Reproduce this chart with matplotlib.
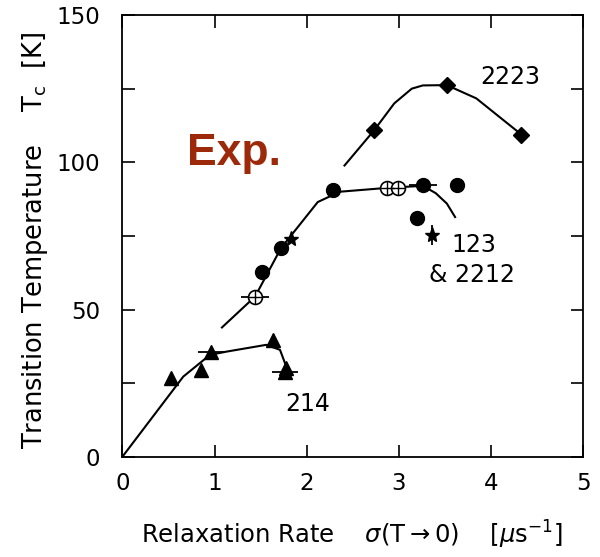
import matplotlib
matplotlib.use('Agg')
import matplotlib.pyplot as plt
from matplotlib.ticker import MultipleLocator

# 2223 (diamonds)
x_2223 = [2.73, 3.52, 4.33]
y_2223 = [110.8, 126.2, 109.4]
curve_2223_x = [2.41, 2.73, 2.95, 3.14, 3.26, 3.52, 3.84, 4.33]
curve_2223_y = [98.9, 110.8, 120.0, 125.0, 126.1, 126.2, 121.7, 109.4]

# 123 & 2212 (filled circles, stars, open circles)
x_123 = [1.52, 1.72, 2.28, 3.26, 3.63, 3.20]
y_123 = [62.6, 70.8, 90.6, 92.3, 92.3, 81.1]
x_star = [1.83, 3.36]
y_star = [73.9, 75.3]
x_open = [1.44, 2.87, 2.99]
y_open = [54.4, 91.3, 91.3]
curve_123_x = [1.08, 1.44, 1.72, 2.12, 2.36, 2.87, 3.26, 3.40, 3.52, 3.61]
curve_123_y = [43.9, 54.4, 70.8, 86.5, 90.0, 91.3, 92.0, 89.5, 86.0, 81.4]

# 214 (triangles)
x_214 = [0.53, 0.85, 0.96, 1.63, 1.76, 1.78]
y_214 = [26.8, 29.5, 35.7, 39.8, 28.8, 30.2]
curve_214_x = [0.0, 0.66, 0.95, 1.13, 1.56, 1.71, 1.80]
curve_214_y = [0.0, 27.2, 34.6, 35.7, 38.0, 36.3, 28.8]

# horizontal error bars (x, y, half width)
err_x = [1.44, 3.26, 0.96, 1.76]
err_y = [54.4, 92.3, 35.7, 28.8]
err_w = [0.15, 0.15, 0.14, 0.14]

plt.rcParams['font.family'] = ['DejaVu Sans']
fig = plt.figure(figsize=(6, 5.57), dpi=100)
ax = fig.add_axes([0.204, 0.180, 0.768, 0.793])

lw = 1.5
ax.plot(curve_2223_x, curve_2223_y, color='black', lw=lw)
ax.plot(curve_123_x, curve_123_y, color='black', lw=lw)
ax.plot(curve_214_x, curve_214_y, color='black', lw=lw)

ax.errorbar(err_x, err_y, xerr=err_w, fmt='none', ecolor='black', elinewidth=1.3, capsize=0)
ax.errorbar([3.36], [75.3], yerr=[3.5], fmt='none', ecolor='black', elinewidth=1.3, capsize=0)

ax.plot(x_2223, y_2223, 'D', color='black', ms=8, ls='none')
ax.plot(x_123, y_123, 'o', color='black', ms=10, ls='none')
ax.plot(x_star, y_star, '*', color='black', ms=11, ls='none')
ax.plot(x_open, y_open, 'o', mfc='white', mec='black', mew=1.2, ms=10, ls='none')
ax.plot(x_open, y_open, '+', color='black', mew=1.0, ms=10, ls='none')
ax.plot(x_214, y_214, '^', color='black', ms=10, ls='none')

fs = 17
ax.text(3.88, 126.5, '2223', fontsize=fs)
ax.text(3.57, 69.5, '123', fontsize=fs)
ax.text(3.33, 59.5, '& 2212', fontsize=fs)
ax.text(1.77, 15.5, '214', fontsize=fs)
ax.text(0.70, 99, 'Exp.', fontsize=32, fontweight='bold', color='#9C2A0A',
        family='Liberation Sans')

ax.set_xlim(0, 5)
ax.set_ylim(0, 150)
ax.xaxis.set_major_locator(MultipleLocator(1))
ax.yaxis.set_major_locator(MultipleLocator(50))
ax.yaxis.set_minor_locator(MultipleLocator(25))
ax.tick_params(which='both', direction='in', top=True, right=True,
               length=9, width=1.2, labelsize=16.5)
ax.tick_params(axis='x', pad=11)
ax.tick_params(axis='y', pad=16)
for s in ax.spines.values():
    s.set_linewidth(1.3)

fig.text(0.587, 0.01, r'Relaxation Rate    $\sigma$(T$\rightarrow$0)    [$\mu$s$^{-1}$]',
         ha='center', va='bottom', fontsize=17.5)
fig.text(0.058, 0.569, r'Transition Temperature    T$_\mathregular{c}$  [K]',
         ha='center', va='center', rotation=90, fontsize=18.5)

plt.savefig('out.png', dpi=100)
